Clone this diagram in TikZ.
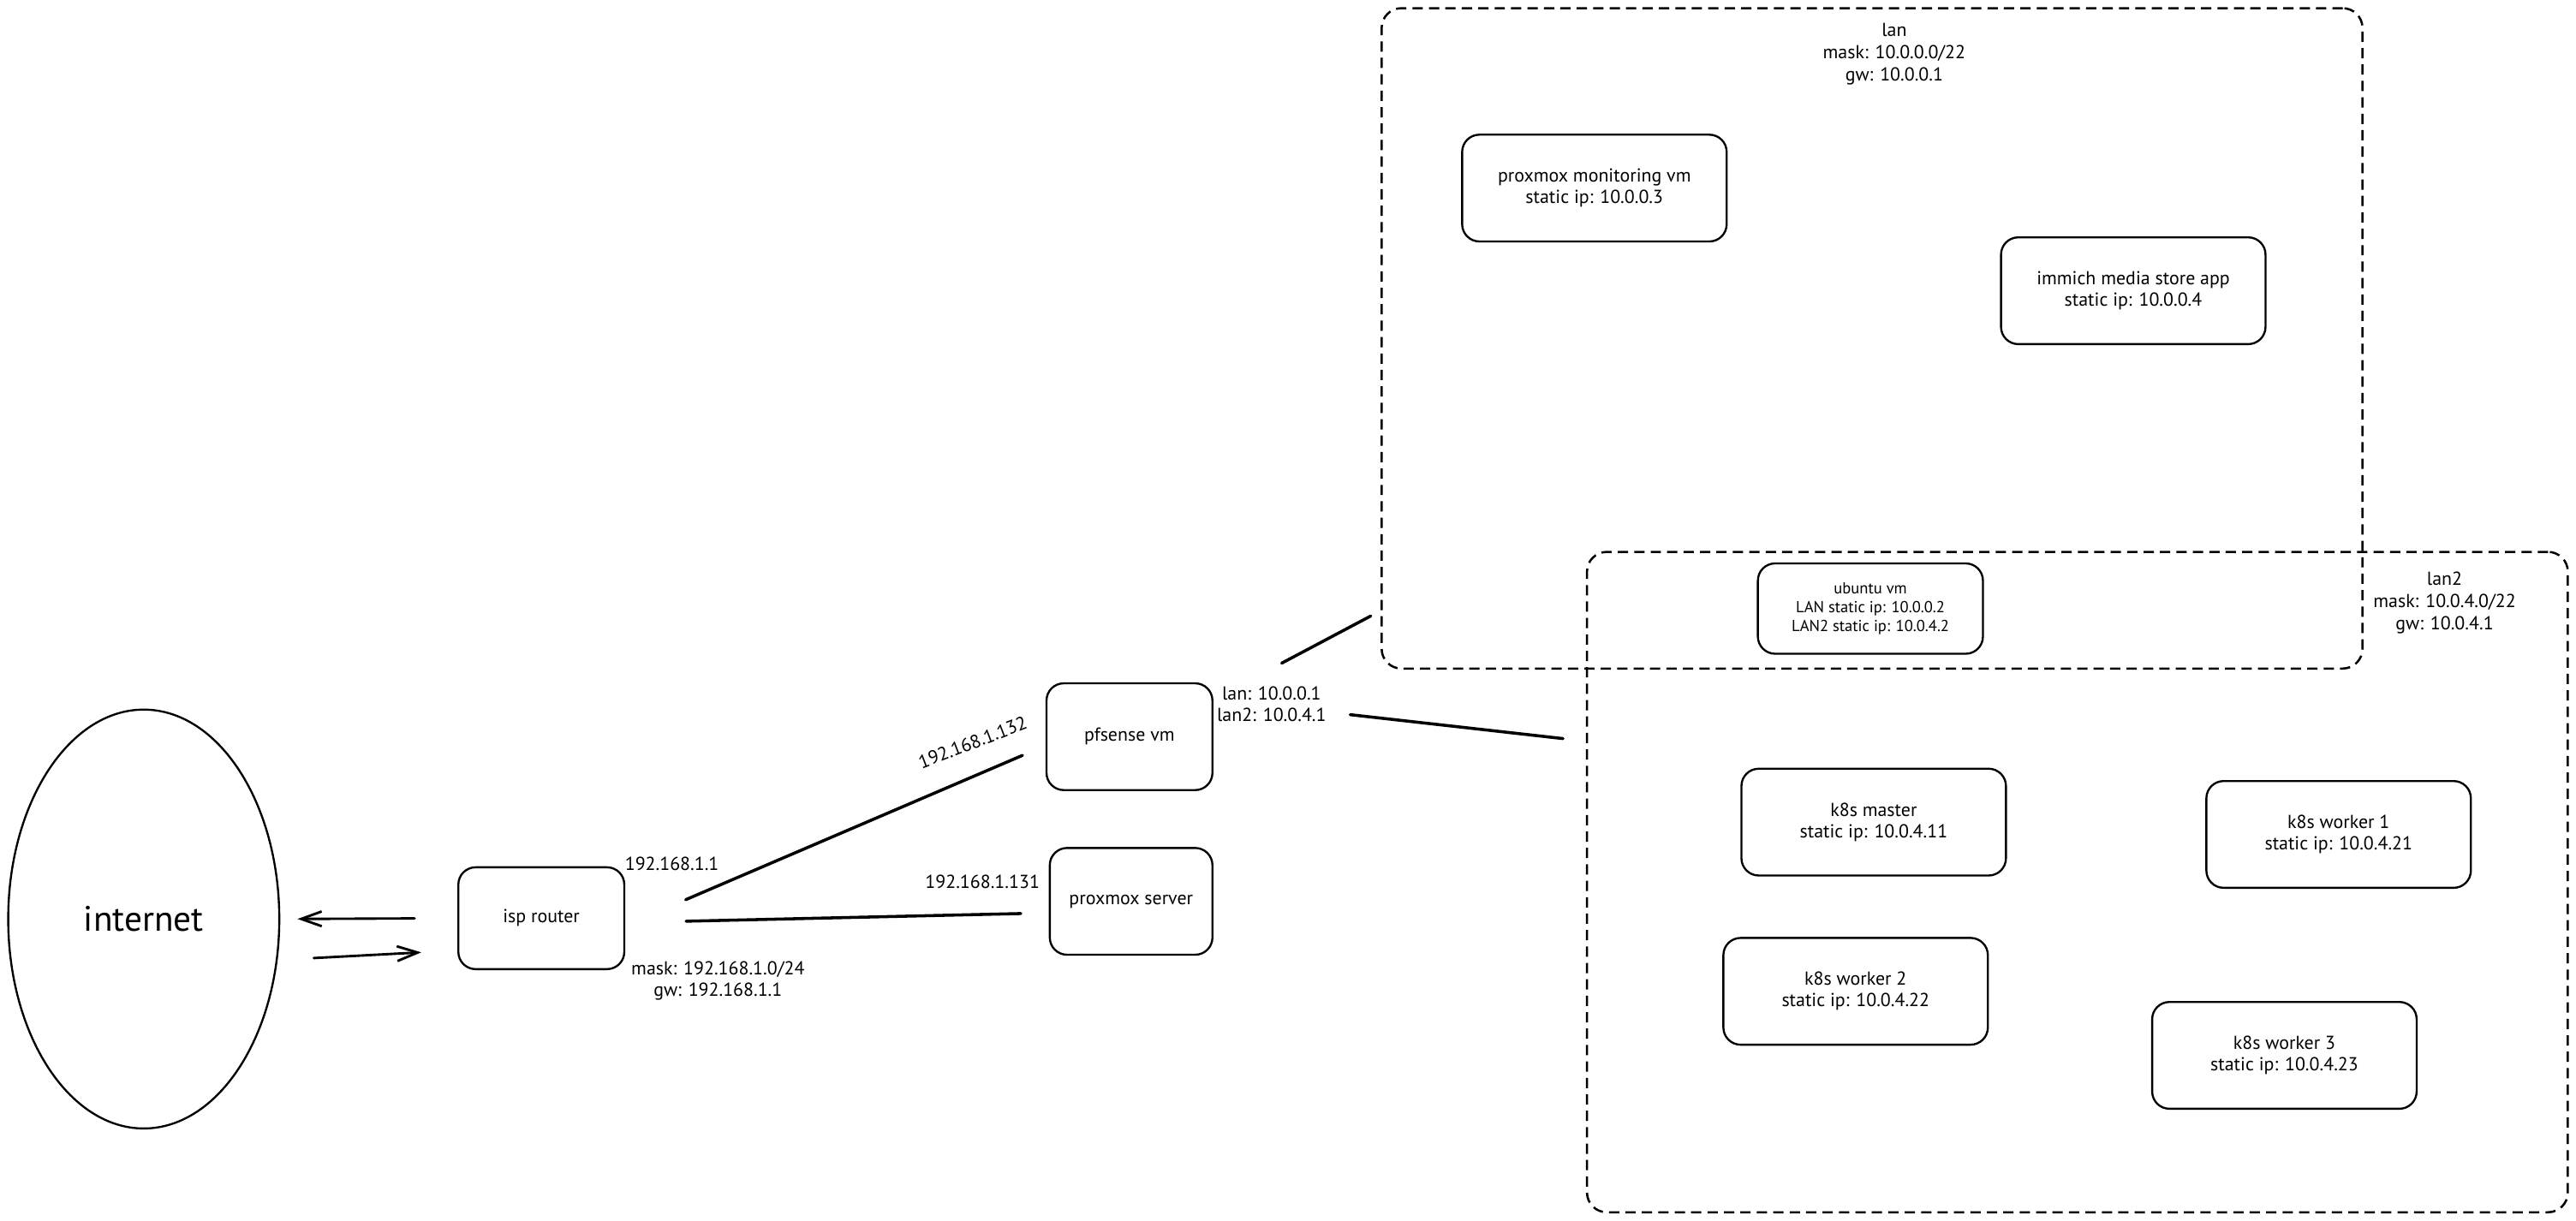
\documentclass[tikz,border=0pt]{standalone}
\usepackage{fontspec}
\setmainfont{PT Sans}
\usepackage{tikz}
\usetikzlibrary{positioning, arrows.meta, shapes.geometric}

\begin{document}
\begin{tikzpicture}[
        x=0.4mm, y=-0.4mm,
        font=\fontsize{13}{14.8}\selectfont,
        host/.style={draw, rounded corners=4.2mm, line width=1.4pt, minimum width=#1, minimum height=26mm, align=center, inner sep=0pt},
        host/.default=64.4mm,
        subnet/.style={draw, rounded corners=4.8mm, line width=1.5pt, dash pattern=on 2.5mm off 1.5mm, minimum width=238.8mm, minimum height=160.8mm, inner sep=0pt},
        link/.style={line width=2.1pt, line cap=round},
        arr/.style={-{Straight Barb[length=5mm, width=3.6mm]}, line width=1.7pt, line cap=round},
        iplbl/.style={align=center, inner sep=0pt},
    ]
    \useasboundingbox (0,0) rectangle (1568,743);

    % Subnets (dashed)
    \node[subnet] (lan) at (1139.5,206) {};
    \node[subnet] (lan2) at (1264.5,537) {};
    \node[iplbl, font=\fontsize{13}{15.4}\selectfont] (lanlbl) at (1153,33) {lan\\mask: 10.0.0.0/22\\gw: 10.0.0.1};
    \node[iplbl, font=\fontsize{13}{15.4}\selectfont] (lan2lbl) at (1488,367) {lan2\\mask: 10.0.4.0/22\\gw: 10.0.4.1};

    % Internet and isp router
    \node[draw, ellipse, line width=1.4pt, minimum width=66mm, minimum height=102mm, inner sep=0pt, font=\fontsize{24.5}{28}\selectfont] (internet) at (87.5,559.5) {internet};
    \node[host=40.4mm, minimum height=24.8mm] (isp) at (329.5,559) {isp router};
    \node[iplbl] (ispip) at (409,526) {192.168.1.1};
    \node[iplbl] (ispnet) at (437,597) {mask: 192.168.1.0/24\\gw: 192.168.1.1};

    % pfsense and proxmox host
    \node[host=40.4mm] (pfsense) at (687.5,448.5) {pfsense vm};
    \node[host=39.6mm, below=13.6mm of pfsense.south, anchor=north, xshift=0.4mm] (pve) {proxmox server};
    \node[iplbl, rotate=21] (pfwan) at (592,452) {192.168.1.132};
    \node[iplbl] (pveip) at (598,537) {192.168.1.131};
    \node[iplbl] (pflan) at (774,428.5) {lan: 10.0.0.1\\lan2: 10.0.4.1};

    % lan hosts
    \node[host] (monvm) at (970.5,114.5) {proxmox monitoring vm\\static ip: 10.0.0.3};
    \node[host] (immich) at (1298.5,177) {immich media store app\\static ip: 10.0.0.4};
    \node[host=54.8mm, minimum height=22mm, font=\fontsize{11}{13}\selectfont] (ubuntu) at (1138.5,370.5) {ubuntu vm\\LAN static ip: 10.0.0.2\\LAN2 static ip: 10.0.4.2};

    % lan2 hosts (k8s)
    \node[host] (k8smaster) at (1140.5,500.5) {k8s master\\static ip: 10.0.4.11};
    \node[host] (k8sw1) at (1423.5,508) {k8s worker 1\\static ip: 10.0.4.21};
    \node[host] (k8sw2) at (1129.5,603.5) {k8s worker 2\\static ip: 10.0.4.22};
    \node[host] (k8sw3) at (1390.5,642.5) {k8s worker 3\\static ip: 10.0.4.23};

    % Uplink arrows
    \draw[arr, shorten <=10.4mm, shorten >=4.2mm] (isp.west) -- (internet.east);
    \draw[arr, shorten <=8.8mm, shorten >=8.8mm] (internet.-17.5) -- (isp.201);

    % Links
    \draw[link, shorten <=16mm, shorten >=6.1mm] (isp.-5) -- (pfsense.186);
    \draw[link, shorten <=14.8mm, shorten >=6.8mm] (isp.-3.5) -- (pve.188);
    \draw[link, shorten <=18.8mm, shorten >=2.7mm] (pfsense.24) -- (lan.209.5);
    \draw[link, shorten <=33.5mm, shorten >=5.6mm] (pfsense.24) -- (lan2.164.8);
\end{tikzpicture}
\end{document}
